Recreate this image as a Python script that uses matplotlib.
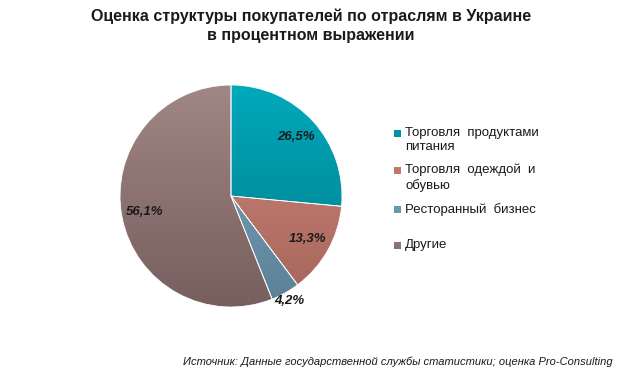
import matplotlib.pyplot as plt
import numpy as np
from matplotlib.colors import LinearSegmentedColormap

# Данные
categories = ['Торговля  продуктами\nпитания', 'Торговля  одеждой  и\nобувью',
              'Ресторанный  бизнес', 'Другие']
shares = [26.5, 13.3, 4.2, 56.1]
pct_labels = ['26,5%', '13,3%', '4,2%', '56,1%']

# цвета: (верх, низ) градиента
colors_top = ['#00a9bb', '#d4897d', '#80abc2', '#a08684']
colors_bottom = ['#007a89', '#a4645a', '#5a8097', '#775f5d']
colors_mid = ['#0092a3', '#c0776c', '#6c96ad', '#8c7371']

plt.rcParams['font.family'] = ['Liberation Sans', 'DejaVu Sans']

fig = plt.figure(figsize=(6.25, 3.78), dpi=100)
ax = fig.add_axes([231/625 - 111/625, (378-196)/378 - 111/378, 222/625, 222/378])

wedges, texts = ax.pie(shares, colors=colors_mid, startangle=90, counterclock=False,
                       radius=1.0, wedgeprops=dict(linewidth=0.6, edgecolor='white'))

# градиентная заливка каждого сектора
grad = np.linspace(0, 1, 256).reshape(-1, 1)
for w, ct, cb in zip(wedges, colors_top, colors_bottom):
    cmap = LinearSegmentedColormap.from_list('g', [ct, cb])
    im = ax.imshow(grad, cmap=cmap, extent=[-1, 1, -1, 1], origin='upper',
                   aspect='auto', zorder=w.get_zorder() + 0.1)
    im.set_clip_path(w)

# белые линии поверх
for w in wedges:
    w.set_facecolor('none')
    w.set_zorder(5)

# подписи процентов
angle = 90.0
for s, lab in zip(shares, pct_labels):
    mid = np.deg2rad(angle - s * 3.6 / 2)
    r = 1.08 if s < 5 else 0.79
    ax.text(r * np.cos(mid), r * np.sin(mid), lab, ha='center', va='center',
            fontsize=9.5, fontweight='bold', fontstyle='italic', color='#1a1a1a', zorder=6)
    angle -= s * 3.6

ax.set_xlim(-1, 1)
ax.set_ylim(-1, 1)
ax.set_aspect('equal')
ax.axis('off')

# легенда вручную
legend_y = [133, 170, 209, 245]
for lab, c, y in zip(categories, colors_mid, legend_y):
    fig.patches.append(plt.Rectangle((394/625, 1 - (y + 3.5)/378), 7/625, 7/378,
                                     transform=fig.transFigure, facecolor=c, edgecolor='none'))
    fig.text(405/625, 1 - (y - 6)/378, lab, fontsize=9.5, va='top', ha='left',
             color='#1a1a1a', linespacing=1.25)

fig.text(311/625, 1 - 9/378, 'Оценка структуры покупателей по отраслям в Украине\nв процентном выражении',
         ha='center', va='top', fontsize=11.5, fontweight='bold', color='#1a1a1a', linespacing=1.3)

fig.text(613/625, 1 - 362/378, 'Источник: Данные государственной службы статистики; оценка Pro-Consulting',
         ha='right', va='center', fontsize=8, fontstyle='italic', color='#1a1a1a')

fig.savefig('out.png', dpi=100)
